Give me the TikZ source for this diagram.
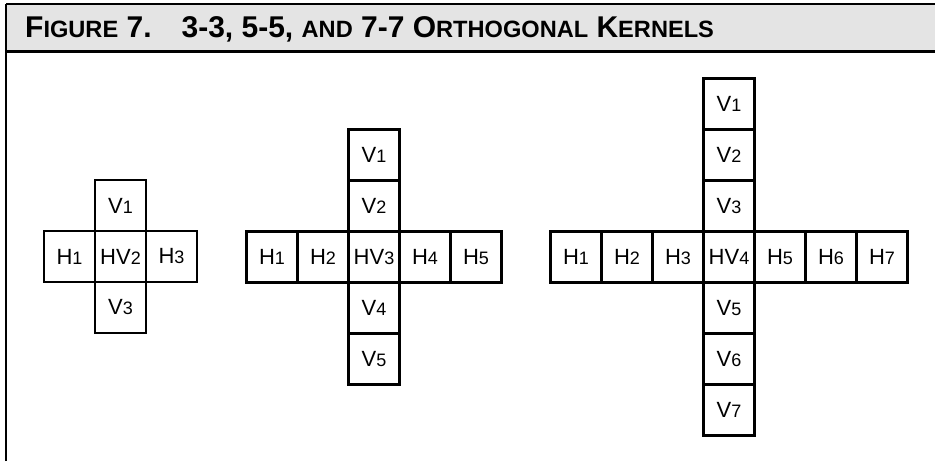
\documentclass[tikz,border=0pt]{standalone}
\usepackage{fontspec}
\setmainfont{Liberation Sans}
\usepackage{xcolor}
\usepackage{tikz}
\usetikzlibrary{positioning}

\definecolor{bandgray}{HTML}{E4E4E4}
\newcommand{\kn}[1]{{\fontsize{18}{18}\selectfont #1}}
\newcommand{\smc}[1]{{\fontsize{23.6}{23.6}\selectfont #1}}

\begin{document}
\begin{tikzpicture}[x=1pt,y=1pt,node distance=0pt]
	\tikzstyle{cell}=[draw, line width=2.8pt, minimum size=51pt, inner sep=0pt, outer sep=0pt, font=\fontsize{22}{22}\selectfont]
	\useasboundingbox (0,0) rectangle (935,461);
	% title band
	\fill[bandgray] (6,457) rectangle (935,409);
	\draw[line width=2.5pt] (6,457) -- (935,457);
	\draw[line width=3pt] (6,409) -- (935,409);
	\draw[line width=2.5pt] (6,0) -- (6,457);
	\node[anchor=base west, inner sep=0pt, font=\bfseries\fontsize{30}{30}\selectfont] (title) at (25,423.5)
		{F\smc{IGURE} 7.\hspace{30pt}3-3, 5-5, \smc{AND} 7-7 O\smc{RTHOGONAL} K\smc{ERNELS}};

	% 3-3 kernel
	\node[cell] (a-hv) at (120.5,204.5) {HV\kn{2}};
	\node[cell] (a-h1) [left=of a-hv] {H\kn{1}};
	\node[cell] (a-h3) [right=of a-hv] {H\kn{3}};
	\node[cell] (a-v1) [above=of a-hv] {V\kn{1}};
	\node[cell] (a-v3) [below=of a-hv] {V\kn{3}};

	% 5-5 kernel
	\node[cell] (b-hv) at (374,204) {HV\kn{3}};
	\node[cell] (b-h2) [left=of b-hv] {H\kn{2}};
	\node[cell] (b-h1) [left=of b-h2] {H\kn{1}};
	\node[cell] (b-h4) [right=of b-hv] {H\kn{4}};
	\node[cell] (b-h5) [right=of b-h4] {H\kn{5}};
	\node[cell] (b-v2) [above=of b-hv] {V\kn{2}};
	\node[cell] (b-v1) [above=of b-v2] {V\kn{1}};
	\node[cell] (b-v4) [below=of b-hv] {V\kn{4}};
	\node[cell] (b-v5) [below=of b-v4] {V\kn{5}};

	% 7-7 kernel
	\node[cell] (c-hv) at (729,204) {HV\kn{4}};
	\node[cell] (c-h3) [left=of c-hv] {H\kn{3}};
	\node[cell] (c-h2) [left=of c-h3] {H\kn{2}};
	\node[cell] (c-h1) [left=of c-h2] {H\kn{1}};
	\node[cell] (c-h5) [right=of c-hv] {H\kn{5}};
	\node[cell] (c-h6) [right=of c-h5] {H\kn{6}};
	\node[cell] (c-h7) [right=of c-h6] {H\kn{7}};
	\node[cell] (c-v3) [above=of c-hv] {V\kn{3}};
	\node[cell] (c-v2) [above=of c-v3] {V\kn{2}};
	\node[cell] (c-v1) [above=of c-v2] {V\kn{1}};
	\node[cell] (c-v5) [below=of c-hv] {V\kn{5}};
	\node[cell] (c-v6) [below=of c-v5] {V\kn{6}};
	\node[cell] (c-v7) [below=of c-v6] {V\kn{7}};
\end{tikzpicture}
\end{document}
